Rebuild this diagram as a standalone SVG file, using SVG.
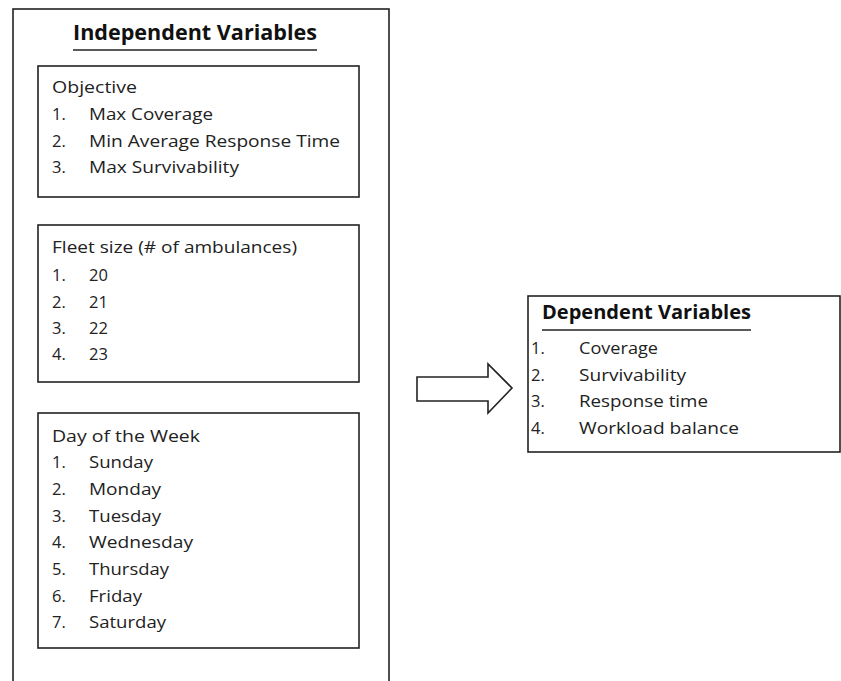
<svg xmlns="http://www.w3.org/2000/svg" width="841" height="681" viewBox="0 0 841 681">
<style>
.box{fill:none;stroke:#222;stroke-width:1.6}
.t{font-family:"Open Sans","Liberation Sans",sans-serif;font-size:16.5px;fill:#222}
.h{font-family:"Open Sans","Liberation Sans",sans-serif;font-size:21px;font-weight:bold;fill:#111}
.ul{stroke:#222;stroke-width:1.6}
</style>
<rect width="841" height="681" fill="#fff"/>
<g id="independent">
<rect class="box" x="13" y="9" width="376" height="690"/>
<text class="h" x="73" y="40" textLength="244" lengthAdjust="spacingAndGlyphs">Independent Variables</text>
<line class="ul" x1="73" y1="50" x2="317" y2="50"/>
</g>
<g id="objective">
<rect class="box" x="38" y="66" width="321" height="131"/>
<text class="t" x="52" y="93" textLength="85" lengthAdjust="spacingAndGlyphs">Objective</text>
<text class="t" x="52" y="120">1.</text><text class="t" x="89" y="120" textLength="124" lengthAdjust="spacingAndGlyphs">Max Coverage</text>
<text class="t" x="52" y="147">2.</text><text class="t" x="89" y="147" textLength="251" lengthAdjust="spacingAndGlyphs">Min Average Response Time</text>
<text class="t" x="52" y="173">3.</text><text class="t" x="89" y="173" textLength="150" lengthAdjust="spacingAndGlyphs">Max Survivability</text>
</g>
<g id="fleet">
<rect class="box" x="38" y="225" width="321" height="157"/>
<text class="t" x="52" y="253" textLength="245" lengthAdjust="spacingAndGlyphs">Fleet size (# of ambulances)</text>
<text class="t" x="52" y="281">1.</text><text class="t" x="89" y="281">20</text>
<text class="t" x="52" y="308">2.</text><text class="t" x="89" y="308">21</text>
<text class="t" x="52" y="334">3.</text><text class="t" x="89" y="334">22</text>
<text class="t" x="52" y="360">4.</text><text class="t" x="89" y="360">23</text>
</g>
<g id="day">
<rect class="box" x="38" y="413" width="321" height="235"/>
<text class="t" x="52" y="442" textLength="148" lengthAdjust="spacingAndGlyphs">Day of the Week</text>
<text class="t" x="52" y="468">1.</text><text class="t" x="89" y="468" textLength="64" lengthAdjust="spacingAndGlyphs">Sunday</text>
<text class="t" x="52" y="495">2.</text><text class="t" x="89" y="495" textLength="72" lengthAdjust="spacingAndGlyphs">Monday</text>
<text class="t" x="52" y="522">3.</text><text class="t" x="89" y="522" textLength="72" lengthAdjust="spacingAndGlyphs">Tuesday</text>
<text class="t" x="52" y="548">4.</text><text class="t" x="89" y="548" textLength="104" lengthAdjust="spacingAndGlyphs">Wednesday</text>
<text class="t" x="52" y="575">5.</text><text class="t" x="89" y="575" textLength="80" lengthAdjust="spacingAndGlyphs">Thursday</text>
<text class="t" x="52" y="602">6.</text><text class="t" x="89" y="602" textLength="53" lengthAdjust="spacingAndGlyphs">Friday</text>
<text class="t" x="52" y="628">7.</text><text class="t" x="89" y="628" textLength="77" lengthAdjust="spacingAndGlyphs">Saturday</text>
</g>
<g id="connectors">
<path class="box" d="M417,377 L488,377 L488,364 L512,388 L488,413 L488,401 L417,401 Z"/>
</g>
<g id="dependent">
<rect class="box" x="528" y="296" width="312" height="156"/>
<text class="h" x="542" y="319" style="font-size:19.5px" textLength="209" lengthAdjust="spacingAndGlyphs">Dependent Variables</text>
<line class="ul" x1="542" y1="330" x2="751" y2="330"/>
<text class="t" x="531" y="354">1.</text><text class="t" x="579" y="354" textLength="79" lengthAdjust="spacingAndGlyphs">Coverage</text>
<text class="t" x="531" y="381">2.</text><text class="t" x="579" y="381" textLength="107" lengthAdjust="spacingAndGlyphs">Survivability</text>
<text class="t" x="531" y="407">3.</text><text class="t" x="579" y="407" textLength="129" lengthAdjust="spacingAndGlyphs">Response time</text>
<text class="t" x="531" y="434">4.</text><text class="t" x="579" y="434" textLength="160" lengthAdjust="spacingAndGlyphs">Workload balance</text>
</g>
</svg>
